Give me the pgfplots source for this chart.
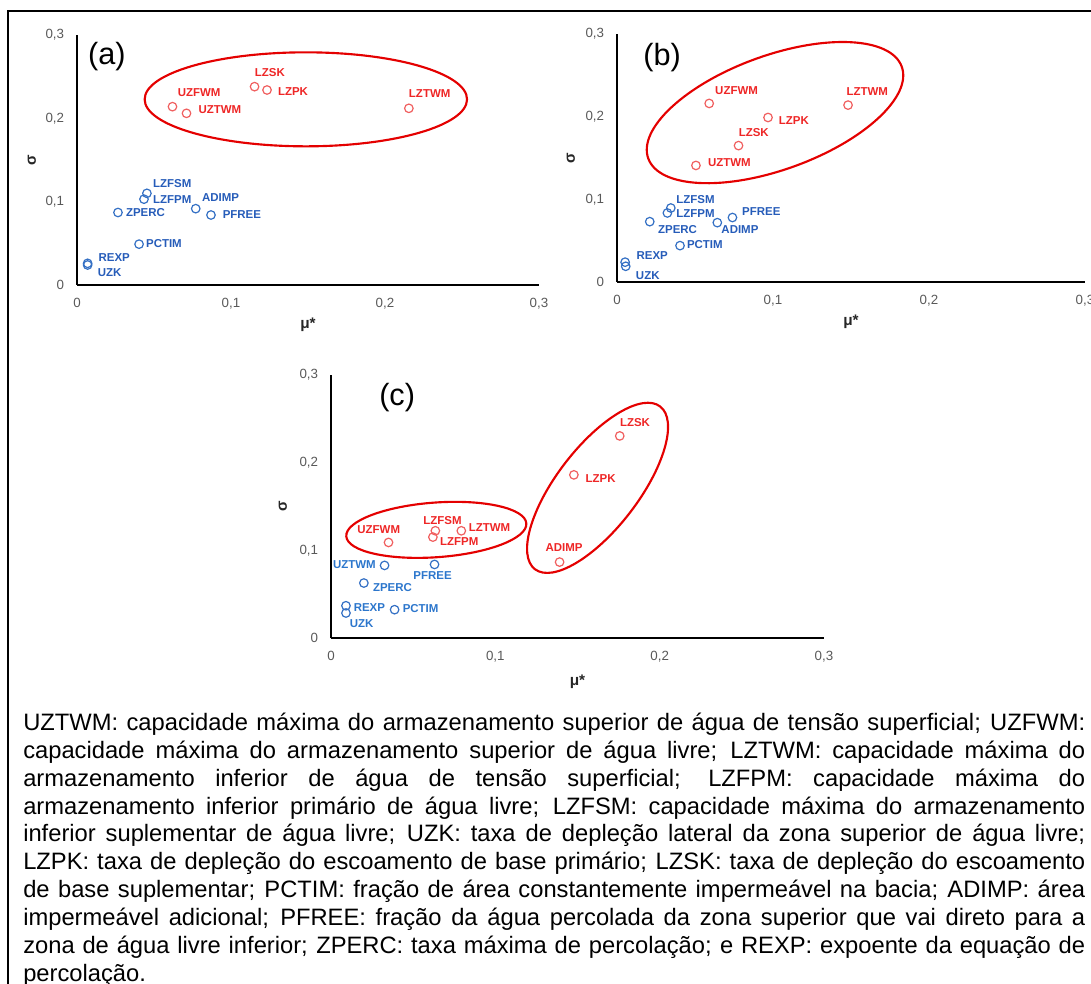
\documentclass[border=0pt]{standalone}
\usepackage{pgfplots}
\pgfplotsset{compat=1.18}
\usepackage{fontspec}
\setmainfont{Liberation Sans}

\definecolor{tickgray}{RGB}{89,89,89}
\definecolor{redtxt}{RGB}{238,38,38}
\definecolor{redmk}{RGB}{240,95,95}
\definecolor{ellred}{RGB}{228,0,0}
\definecolor{bluetxt}{RGB}{38,92,185}
\definecolor{bluemk}{RGB}{52,112,196}
\definecolor{bluetxtc}{RGB}{44,118,204}

\pgfplotsset{sapanel/.style={
  scale only axis, clip=false,
  xmin=0, xmax=0.3, ymin=0, ymax=0.3,
  axis lines=left, axis line style={-, line width=1.5pt, black},
  xtick={0,0.1,0.2,0.3}, ytick={0,0.1,0.2,0.3},
  xticklabels={0,{0,1},{0,2},{0,3}}, yticklabels={0,{0,1},{0,2},{0,3}},
  major tick length=0pt,
  /pgf/number format/assume math mode=true,
  tick label style={font=\fontsize{10}{12}\selectfont, text=tickgray, inner sep=0pt},
  xticklabel style={anchor=north, yshift=-9.5pt},
  yticklabel style={anchor=east, xshift=-9.5pt},
  rmk/.style={only marks, mark=o, mark size=3.2pt, mark options={line width=0.9pt, draw=redmk}},
  bmk/.style={only marks, mark=o, mark size=3.2pt, mark options={line width=0.9pt, draw=bluemk}},
}}
\tikzset{
  lr/.style={anchor=west, inner sep=0pt, text=redtxt, font=\fontsize{8.6}{10}\selectfont\bfseries},
  lb/.style={anchor=west, inner sep=0pt, text=bluetxt, font=\fontsize{8.6}{10}\selectfont\bfseries},
  lbc/.style={lb, text=bluetxtc},
  ttl/.style={inner sep=0pt, text=black!85, font=\fontsize{11.5}{13}\selectfont\bfseries},
  pan/.style={anchor=west, inner sep=0pt, font=\fontsize{23}{26}\selectfont},
  ell/.style={draw=ellred, line width=1.6pt},
}

\begin{document}
\begin{tikzpicture}
\path[use as bounding box] (0pt,0pt) rectangle (818.25pt,737.25pt);
\draw[line width=1.5pt] (6.2pt,-10pt) -- (6.2pt,729pt) -- (830pt,729pt);

% (a)
\begin{axis}[sapanel, at={(57.75pt,523.5pt)}, anchor=south west, width=346.5pt, height=187.5pt]
\addplot[rmk] coordinates {(0.0620,0.214) (0.0711,0.206) (0.1153,0.238) (0.1234,0.234) (0.2155,0.212)};
\addplot[bmk] coordinates {(0.0454,0.110) (0.0435,0.103) (0.0266,0.087) (0.0771,0.0916) (0.0870,0.084) (0.0403,0.049) (0.0069,0.026) (0.0069,0.024)};
\node[lr] at (axis cs:0.0653,0.2308) {UZFWM};
\node[lr] at (axis cs:0.0788,0.2100) {UZTWM};
\node[lr] at (axis cs:0.1154,0.2548) {LZSK};
\node[lr] at (axis cs:0.1304,0.2320) {LZPK};
\node[lr] at (axis cs:0.2154,0.2292) {LZTWM};
\node[lb] at (axis cs:0.0493,0.1212) {LZFSM};
\node[lb] at (axis cs:0.0493,0.1028) {LZFPM};
\node[lb] at (axis cs:0.0317,0.0872) {ZPERC};
\node[lb] at (axis cs:0.0811,0.1048) {ADIMP};
\node[lb] at (axis cs:0.0945,0.0840) {PFREE};
\node[lb] at (axis cs:0.0447,0.0500) {PCTIM};
\node[lb] at (axis cs:0.0139,0.0328) {REXP};
\node[lb] at (axis cs:0.0134,0.0148) {UZK};
\node[pan] at (axis cs:0.0071,0.2737) {(a)};
\node[ttl] at ([yshift=-30pt]axis description cs:0.5,0) {μ*};
\node[ttl, rotate=90] at ([xshift=-33.75pt]axis description cs:0,0.5) {σ};
\coordinate (ea) at (axis cs:0.1486,0.2228);
\end{axis}

% (b)
\begin{axis}[sapanel, at={(462.75pt,525.75pt)}, anchor=south west, width=351pt, height=186pt]
\addplot[rmk] coordinates {(0.0591,0.216) (0.1481,0.214) (0.0968,0.199) (0.0779,0.165) (0.0506,0.141)};
\addplot[bmk] coordinates {(0.0345,0.0895) (0.0323,0.0835) (0.0210,0.073) (0.0643,0.0718) (0.0740,0.078) (0.0404,0.044) (0.0052,0.024) (0.0056,0.019)};
\node[lr] at (axis cs:0.0628,0.2316) {UZFWM};
\node[lr] at (axis cs:0.1470,0.2308) {LZTWM};
\node[lr] at (axis cs:0.1036,0.1953) {LZPK};
\node[lr] at (axis cs:0.0779,0.1808) {LZSK};
\node[lr] at (axis cs:0.0582,0.1446) {UZTWM};
\node[lb] at (axis cs:0.0379,0.1003) {LZFSM};
\node[lb] at (axis cs:0.0379,0.0826) {LZFPM};
\node[lb] at (axis cs:0.0262,0.0632) {ZPERC};
\node[lb] at (axis cs:0.0668,0.0632) {ADIMP};
\node[lb] at (axis cs:0.0801,0.0858) {PFREE};
\node[lb] at (axis cs:0.0447,0.0451) {PCTIM};
\node[lb] at (axis cs:0.0124,0.0314) {REXP};
\node[lb] at (axis cs:0.0120,0.0081) {UZK};
\node[pan] at (axis cs:0.0167,0.2720) {(b)};
\node[ttl] at ([yshift=-30pt]axis description cs:0.5,0) {μ*};
\node[ttl, rotate=90] at ([xshift=-34.5pt]axis description cs:0,0.5) {σ};
\coordinate (eb) at (axis cs:0.1013,0.2050);
\end{axis}

% (c)
\begin{axis}[sapanel, at={(248.25pt,258.75pt)}, anchor=south west, width=369.75pt, height=197.25pt]
\addplot[rmk] coordinates {(0.1757,0.2305) (0.1478,0.1861) (0.1391,0.0866) (0.0350,0.109) (0.0635,0.1223) (0.0620,0.1151) (0.0793,0.1223)};
\addplot[bmk] coordinates {(0.0326,0.0828) (0.0630,0.0839) (0.0200,0.0627) (0.0091,0.0368) (0.0091,0.0285) (0.0387,0.0323)};
\node[lr] at (axis cs:0.1757,0.2461) {LZSK};
\node[lr] at (axis cs:0.1548,0.1823) {LZPK};
\node[lr] at (axis cs:0.1304,0.1033) {ADIMP};
\node[lr] at (axis cs:0.0159,0.1242) {UZFWM};
\node[lr] at (axis cs:0.0561,0.1341) {LZFSM};
\node[lr] at (axis cs:0.0837,0.1265) {LZTWM};
\node[lr] at (axis cs:0.0663,0.1101) {LZFPM};
\node[lbc] at (axis cs:0.0011,0.0836) {UZTWM};
\node[lbc] at (axis cs:0.0500,0.0714) {PFREE};
\node[lbc] at (axis cs:0.0254,0.0573) {ZPERC};
\node[lbc] at (axis cs:0.0137,0.0353) {REXP};
\node[lbc] at (axis cs:0.0435,0.0334) {PCTIM};
\node[lbc] at (axis cs:0.0113,0.0160) {UZK};
\node[pan] at (axis cs:0.0292,0.2748) {(c)};
\node[ttl] at ([yshift=-33pt]axis description cs:0.5,0) {μ*};
\node[ttl, rotate=90] at ([xshift=-36pt]axis description cs:0,0.5) {σ};
\coordinate (ec1) at (axis cs:0.0641,0.1234);
\coordinate (ec2) at (axis cs:0.1622,0.1713);
\end{axis}

\draw[ell] (ea) ellipse [x radius=120.9pt, y radius=35.25pt];
\draw[ell, rotate around={19.9:(eb)}] (eb) ellipse [x radius=101.1pt, y radius=42.8pt];
\draw[ell, rotate around={4.1:(ec1)}] (ec1) ellipse [x radius=67.7pt, y radius=20.5pt];
\draw[ell, rotate around={52.4:(ec2)}] (ec2) ellipse [x radius=77pt, y radius=30.6pt];

\node[anchor=base west, inner sep=0pt, text width=796.5pt, align=justify,
      font=\fontsize{17.8}{20.9}\selectfont] at (17.25pt,189.4pt)
{\hyphenpenalty=10000 \tolerance=10000
UZTWM: capacidade máxima do armazenamento superior de água de tensão superficial; UZFWM:\linebreak
capacidade máxima do armazenamento superior de água livre; LZTWM: capacidade máxima do\linebreak
armazenamento inferior de água de tensão superficial; LZFPM: capacidade máxima do\linebreak
armazenamento inferior primário de água livre; LZFSM: capacidade máxima do armazenamento\linebreak
inferior suplementar de água livre; UZK: taxa de depleção lateral da zona superior de água livre;\linebreak
LZPK: taxa de depleção do escoamento de base primário; LZSK: taxa de depleção do escoamento\linebreak
de base suplementar; PCTIM: fração de área constantemente impermeável na bacia; ADIMP: área\linebreak
impermeável adicional; PFREE: fração da água percolada da zona superior que vai direto para a\linebreak
zona de água livre inferior; ZPERC: taxa máxima de percolação; e REXP: expoente da equação de\linebreak
percolação.};
\end{tikzpicture}
\end{document}
